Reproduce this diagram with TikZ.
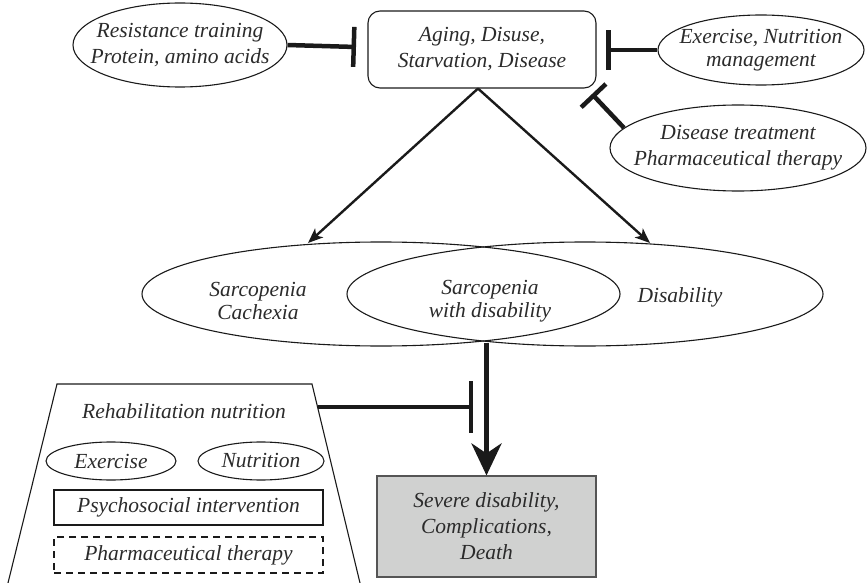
\documentclass[tikz,border=0pt]{standalone}
\usepackage{fontspec}
\setmainfont{Liberation Serif}
\usetikzlibrary{arrows.meta,shapes.geometric}
\definecolor{ln}{HTML}{1A1A1A}
\definecolor{tx}{HTML}{2B2B2B}
\definecolor{gbox}{HTML}{D0D1D0}
\definecolor{gedge}{HTML}{555555}
\begin{document}
\begin{tikzpicture}[x=1pt,y=1pt,
 txt/.style={font=\fontsize{21.5}{26}\selectfont\itshape, text=tx, align=center, inner sep=0pt},
 ell/.style={draw=ln, line width=1.1pt, ellipse, inner sep=0pt},
 boxed/.style={draw=ln, line width=1.1pt, inner sep=0pt},
 inh/.style={draw=ln, line width=4.5pt},
 arr/.style={draw=ln, line width=2.4pt, -{Stealth[length=15pt,width=12pt,inset=4pt]}},
]
\useasboundingbox (0,0) rectangle (868,-583);

% top box
\node[boxed, rounded corners=12pt, minimum width=228pt, minimum height=77pt, txt] (A) at (482,-49.5) {Aging, Disuse,\\Starvation, Disease};

% upper ellipses
\node[ell, minimum width=214pt, minimum height=84pt] (R) at (180,-45) {};
\node[txt] (Rt) at (R) {Resistance training\\Protein, amino acids};
\node[ell, minimum width=206pt, minimum height=70pt] (E) at (761,-50) {};
\node[txt, font=\fontsize{21.5}{23}\selectfont\itshape] (Et) at (E) {Exercise, Nutrition\\management};
\node[ell, minimum width=256pt, minimum height=86pt] (D) at (738,-148) {};
\node[txt] (Dt) at (D) {Disease treatment\\Pharmaceutical therapy};

% inhibitors to the top box
\coordinate (iR) at (356,-47);
\coordinate (iE) at (606,-50);
\coordinate (iD) at (592,-94);
\draw[inh, -{Bar[width=40pt,line width=4.5pt]}] (R.east) -- (iR);
\draw[inh, -{Bar[width=40pt,line width=4.5pt]}] (E.west) -- (iE);
\draw[inh, -{Bar[width=34pt,line width=4.5pt]}] (D.170) -- (iD);

% overlapping ellipses
\node[ell, minimum width=478pt, minimum height=104pt] (SC) at (381,-294) {};
\node[ell, minimum width=476pt, minimum height=104pt] (DI) at (585,-294) {};
\node[txt, font=\fontsize{21.5}{23}\selectfont\itshape] (SCt) at (258,-301) {Sarcopenia\\Cachexia};
\node[txt, font=\fontsize{21.5}{23}\selectfont\itshape] (SDt) at (490,-301) {Sarcopenia\\with disability};
\node[txt, anchor=base] (DIt) at (680,-302) {Disability};

% arrows from top box
\coordinate (tipL) at (308,-243);
\coordinate (tipR) at (650,-243);
\draw[arr] ([xshift=-4pt]A.south) -- (tipL);
\draw[arr] ([xshift=-4pt]A.south) -- (tipR);

% severe box
\node[draw=gedge, line width=1.1pt, fill=gbox, minimum width=219pt, minimum height=101pt, txt] (G) at (486.5,-526.5) {Severe disability,\\Complications,\\Death};

\coordinate (ov) at (486.5,-343);
\draw[draw=ln, line width=5pt, -{Stealth[length=32pt,width=30pt,inset=10pt]}] (ov) -- (G.north);

% rehabilitation trapezoid
\draw[draw=ln, line width=1.1pt] (8,-583) -- (57,-384) -- (312,-384) -- (360,-583);
\coordinate (rh) at (318,-407);
\coordinate (iG) at (473,-407);
\draw[inh, -{Bar[width=52pt,line width=4.5pt]}] (rh) -- (iG);

\node[txt, anchor=base] (RN) at (184,-418) {Rehabilitation nutrition};
\node[ell, minimum width=130pt, minimum height=38pt, txt] (Ex) at (111,-461) {Exercise};
\node[ell, minimum width=126pt, minimum height=38pt, txt] (Nu) at (261,-461) {Nutrition};
\node[boxed, minimum width=269pt, minimum height=35pt, txt] (Ps) at (188.5,-507.5) {Psychosocial intervention};
\node[boxed, dash pattern=on 7pt off 5pt, minimum width=269pt, minimum height=36pt, txt] (Ph) at (188.5,-555) {Pharmaceutical therapy};
\end{tikzpicture}
\end{document}
